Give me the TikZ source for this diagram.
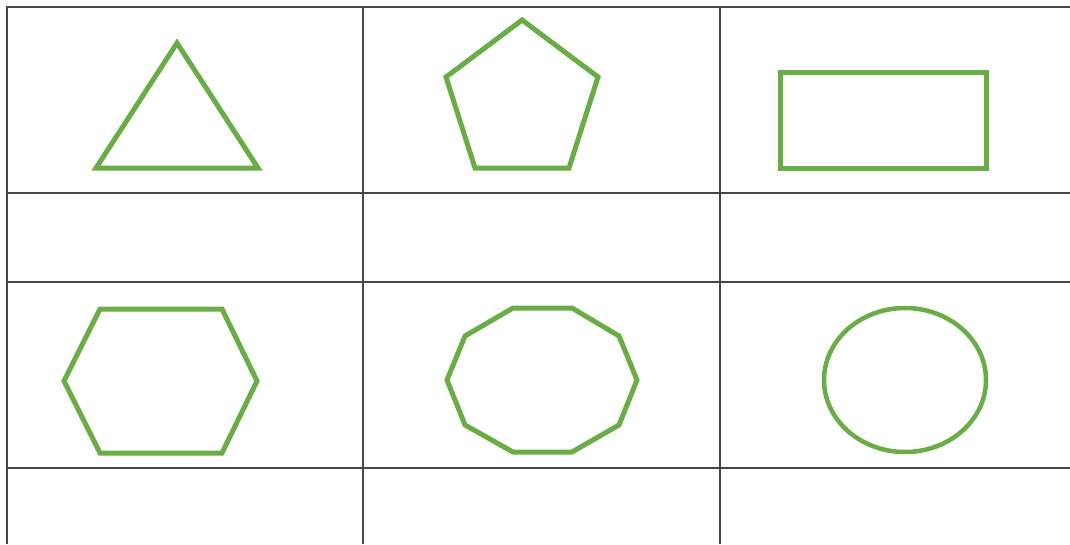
\documentclass[tikz,border=0pt]{standalone}
\begin{document}
\begin{tikzpicture}[x=1pt,y=-1pt,
  gridline/.style={draw=black!72,line width=1.7pt},
  shapeline/.style={draw=shapegreen,line width=5pt,line join=miter}]
\definecolor{shapegreen}{RGB}{106,172,70}
\useasboundingbox (0,0) rectangle (1070,544);
\fill[white] (0,0) rectangle (1070,544);
% grid
\draw[gridline] (7,544) -- (7,7) -- (1070,7);
\draw[gridline] (363,7) -- (363,544);
\draw[gridline] (720,7) -- (720,544);
\draw[gridline] (7,193) -- (1070,193);
\draw[gridline] (7,282) -- (1070,282);
\draw[gridline] (7,468) -- (1070,468);
% triangle
\draw[shapeline] (177,43) -- (258,168) -- (96,168) -- cycle;
% pentagon
\draw[shapeline] (522,20) -- (598,77) -- (569,168) -- (475,168) -- (446,77) -- cycle;
% rectangle
\draw[shapeline] (780,72) rectangle (986,168);
% hexagon
\draw[shapeline] (100,309) -- (222,309) -- (257,381) -- (222,453) -- (100,453) -- (64,381) -- cycle;
% decagon
\draw[shapeline] (513,308) -- (572,308) -- (619,336) -- (637,380) -- (619,425) -- (572,452) -- (513,452) -- (465,425) -- (447,380) -- (465,336) -- cycle;
% ellipse
\draw[shapeline,line width=4.5pt] (905,380) ellipse [x radius=81, y radius=72];
\end{tikzpicture}
\end{document}
